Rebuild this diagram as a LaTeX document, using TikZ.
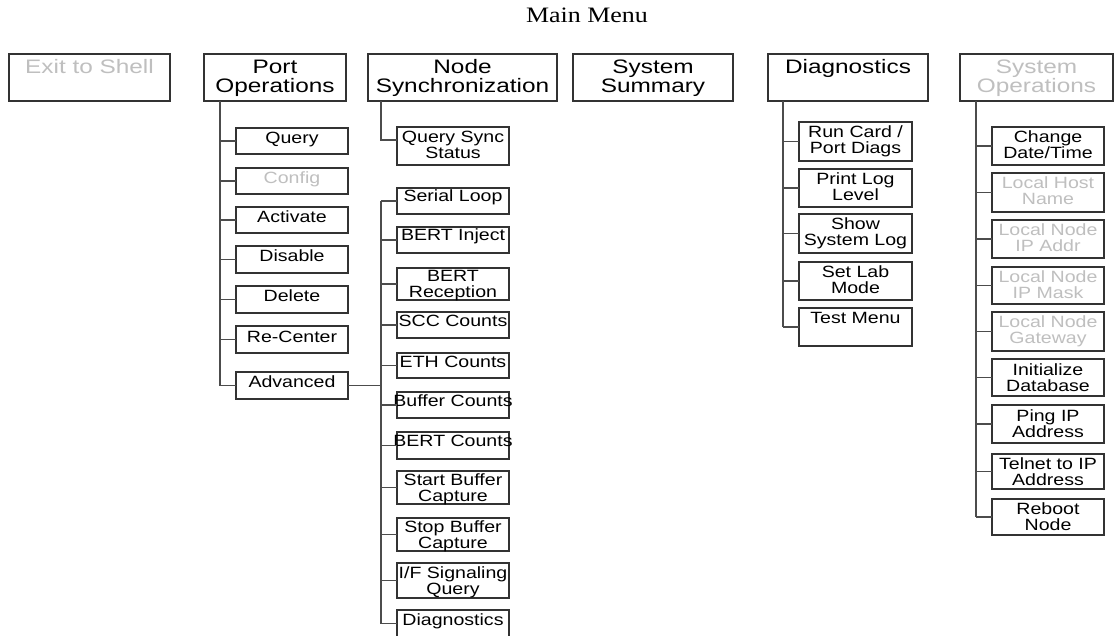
\documentclass[tikz,border=0pt]{standalone}
\usepackage{fontspec}
\setmainfont{Liberation Serif}
\newfontfamily\titlefont[FakeStretch=1.18]{Liberation Serif}
\newfontfamily\headfont[FakeStretch=1.25]{Liberation Sans}
\newfontfamily\entryfont[FakeStretch=1.2]{Liberation Sans}

% A fixed-size cell with its lines set from the top, each line centred
% (a line wider than the cell spills out evenly on both sides).
% #1 width, #2 height, #3 first baseline below the top, #4 font, #5 text
\newcommand\cellbox[5]{%
  \vbox to #2pt{#4%
    \hbox to #1pt{\hss\vtop{\let\\=\cr
      \halign{\hfil##\hfil\cr\rule{0pt}{#3pt}#5\cr}}\hss}%
    \vss}}
\newcommand\head[2]{\cellbox{#1}{47}{20}{\headfont\fontsize{19.5}{19}\selectfont}{#2}}
% optional argument: first baseline below the top edge
\newcommand\entry[4][16]{\cellbox{#2}{#3}{#1}{\entryfont\fontsize{16.3}{16}\selectfont}{#4}}

\begin{document}
\begin{tikzpicture}[x=1pt,y=-1pt,
  box/.style={draw=black!80, line width=1.1pt, inner sep=0pt, outer sep=0pt,
              anchor=north west},
  dim/.style={text=black!25},
  link/.style={draw=black!70, line width=1.1pt}]

\fill[white] (0,0) rectangle (1114,636);
\useasboundingbox (0,0) rectangle (1114,636);

\node[font=\titlefont\fontsize{22}{26}\selectfont, anchor=base] (title) at (587,23) {Main Menu};

% top level menu
\node[box,dim] (exit)    at (9,54)   {\head{161}{Exit to Shell}};
\node[box]     (port)    at (204,54) {\head{142}{Port\\Operations}};
\node[box]     (nsync)   at (368,54) {\head{189}{Node\\Synchronization}};
\node[box]     (summary) at (573,54) {\head{160}{System\\Summary}};
\node[box]     (diag)    at (768,54) {\head{160}{Diagnostics}};
\node[box,dim] (sysops)  at (960,54) {\head{153}{System\\Operations}};

% port operations
\node[box]     (query)    at (236,128) {\entry{112}{26}{Query}};
\node[box,dim] (config)   at (236,168) {\entry{112}{26}{Config}};
\node[box]     (activate) at (236,207) {\entry{112}{26}{Activate}};
\node[box]     (disable)  at (236,246) {\entry{112}{27}{Disable}};
\node[box]     (delete)   at (236,286) {\entry{112}{27}{Delete}};
\node[box]     (recenter) at (236,326) {\entry{112}{27}{Re-Center}};
\node[box]     (advanced) at (236,372) {\entry{112}{27}{Advanced}};

% node synchronization
\node[box] (qsync) at (397,127) {\entry{112}{38}{Query Sync\\Status}};

% advanced port operations
\node[box] (serial)    at (397,188) {\entry[14]{112}{26}{Serial Loop}};
\node[box] (bertinj)   at (397,227) {\entry[14]{112}{26}{BERT Inject}};
\node[box] (bertrec)   at (397,268) {\entry[13.5]{112}{32}{BERT\\Reception}};
\node[box] (scc)       at (397,312) {\entry[14]{112}{26}{SCC Counts}};
\node[box] (eth)       at (397,353) {\entry[14]{112}{25}{ETH Counts}};
\node[box] (bufcount)  at (397,392) {\entry[14]{112}{26}{Buffer Counts}};
\node[box] (bertcount) at (397,432) {\entry[14]{112}{27}{BERT Counts}};
\node[box] (startcap)  at (397,471) {\entry[14.5]{112}{33}{Start Buffer\\Capture}};
\node[box] (stopcap)   at (397,518) {\entry[14.5]{112}{33}{Stop Buffer\\Capture}};
\node[box] (ifsig)     at (397,563) {\entry[15]{112}{35}{I/F Signaling\\Query}};
\node[box] (diagitem)  at (397,610) {\entry[15]{112}{27}{Diagnostics}};

% diagnostics
\node[box] (runcard)  at (799,122) {\entry{113}{39}{Run Card /\\Port Diags}};
\node[box] (printlog) at (799,169) {\entry{113}{38}{Print Log\\Level}};
\node[box] (showlog)  at (799,214) {\entry{113}{39}{Show\\System Log}};
\node[box] (labmode)  at (799,262) {\entry{113}{38}{Set Lab\\Mode}};
\node[box] (testmenu) at (799,308) {\entry{113}{38}{Test Menu}};

% system operations
\node[box]     (datetime) at (992,127) {\entry{112}{38}{Change\\Date/Time}};
\node[box,dim] (hostname) at (992,173) {\entry{112}{39}{Local Host\\Name}};
\node[box,dim] (ipaddr)   at (992,220) {\entry{112}{38}{Local Node\\IP Addr}};
\node[box,dim] (ipmask)   at (992,267) {\entry{112}{37}{Local Node\\IP Mask}};
\node[box,dim] (gateway)  at (992,312) {\entry{112}{39}{Local Node\\Gateway}};
\node[box]     (initdb)   at (992,359) {\entry{112}{37}{Initialize\\Database}};
\node[box]     (ping)     at (992,405) {\entry{112}{38}{Ping IP\\Address}};
\node[box]     (telnet)   at (992,454) {\entry[15]{112}{35}{Telnet to IP\\Address}};
\node[box]     (reboot)   at (992,499) {\entry[15]{112}{36}{Reboot\\Node}};

% connectors
\coordinate (portbus) at ([xshift=16pt]port.south west);
\draw[link] (portbus) -- (portbus |- advanced.west);
\foreach \n in {query,config,activate,disable,delete,recenter,advanced}
  \draw[link] (portbus |- \n.west) -- (\n.west);

\coordinate (syncbus) at ([xshift=13pt]nsync.south west);
\draw[link] (syncbus) |- ([yshift=6pt]qsync.west);

\coordinate (advbus) at ([xshift=-16pt]serial.west);
\draw[link] (advanced.east) -- (advanced.east -| advbus);
\draw[link] (advbus) -- (advbus |- diagitem.west);
\foreach \n in {serial,bertinj,bertrec,scc,eth,bufcount,bertcount,startcap,stopcap,ifsig,diagitem}
  \draw[link] (advbus |- \n.west) -- (\n.west);

\coordinate (diagbus) at ([xshift=15pt]diag.south west);
\draw[link] (diagbus) -- (diagbus |- testmenu.west);
\foreach \n in {runcard,printlog,showlog,labmode,testmenu}
  \draw[link] (diagbus |- \n.west) -- (\n.west);

\coordinate (opsbus) at ([xshift=16pt]sysops.south west);
\draw[link] (opsbus) -- (opsbus |- reboot.west);
\foreach \n in {datetime,hostname,ipaddr,ipmask,gateway,initdb,ping,telnet,reboot}
  \draw[link] (opsbus |- \n.west) -- (\n.west);
\end{tikzpicture}
\end{document}
